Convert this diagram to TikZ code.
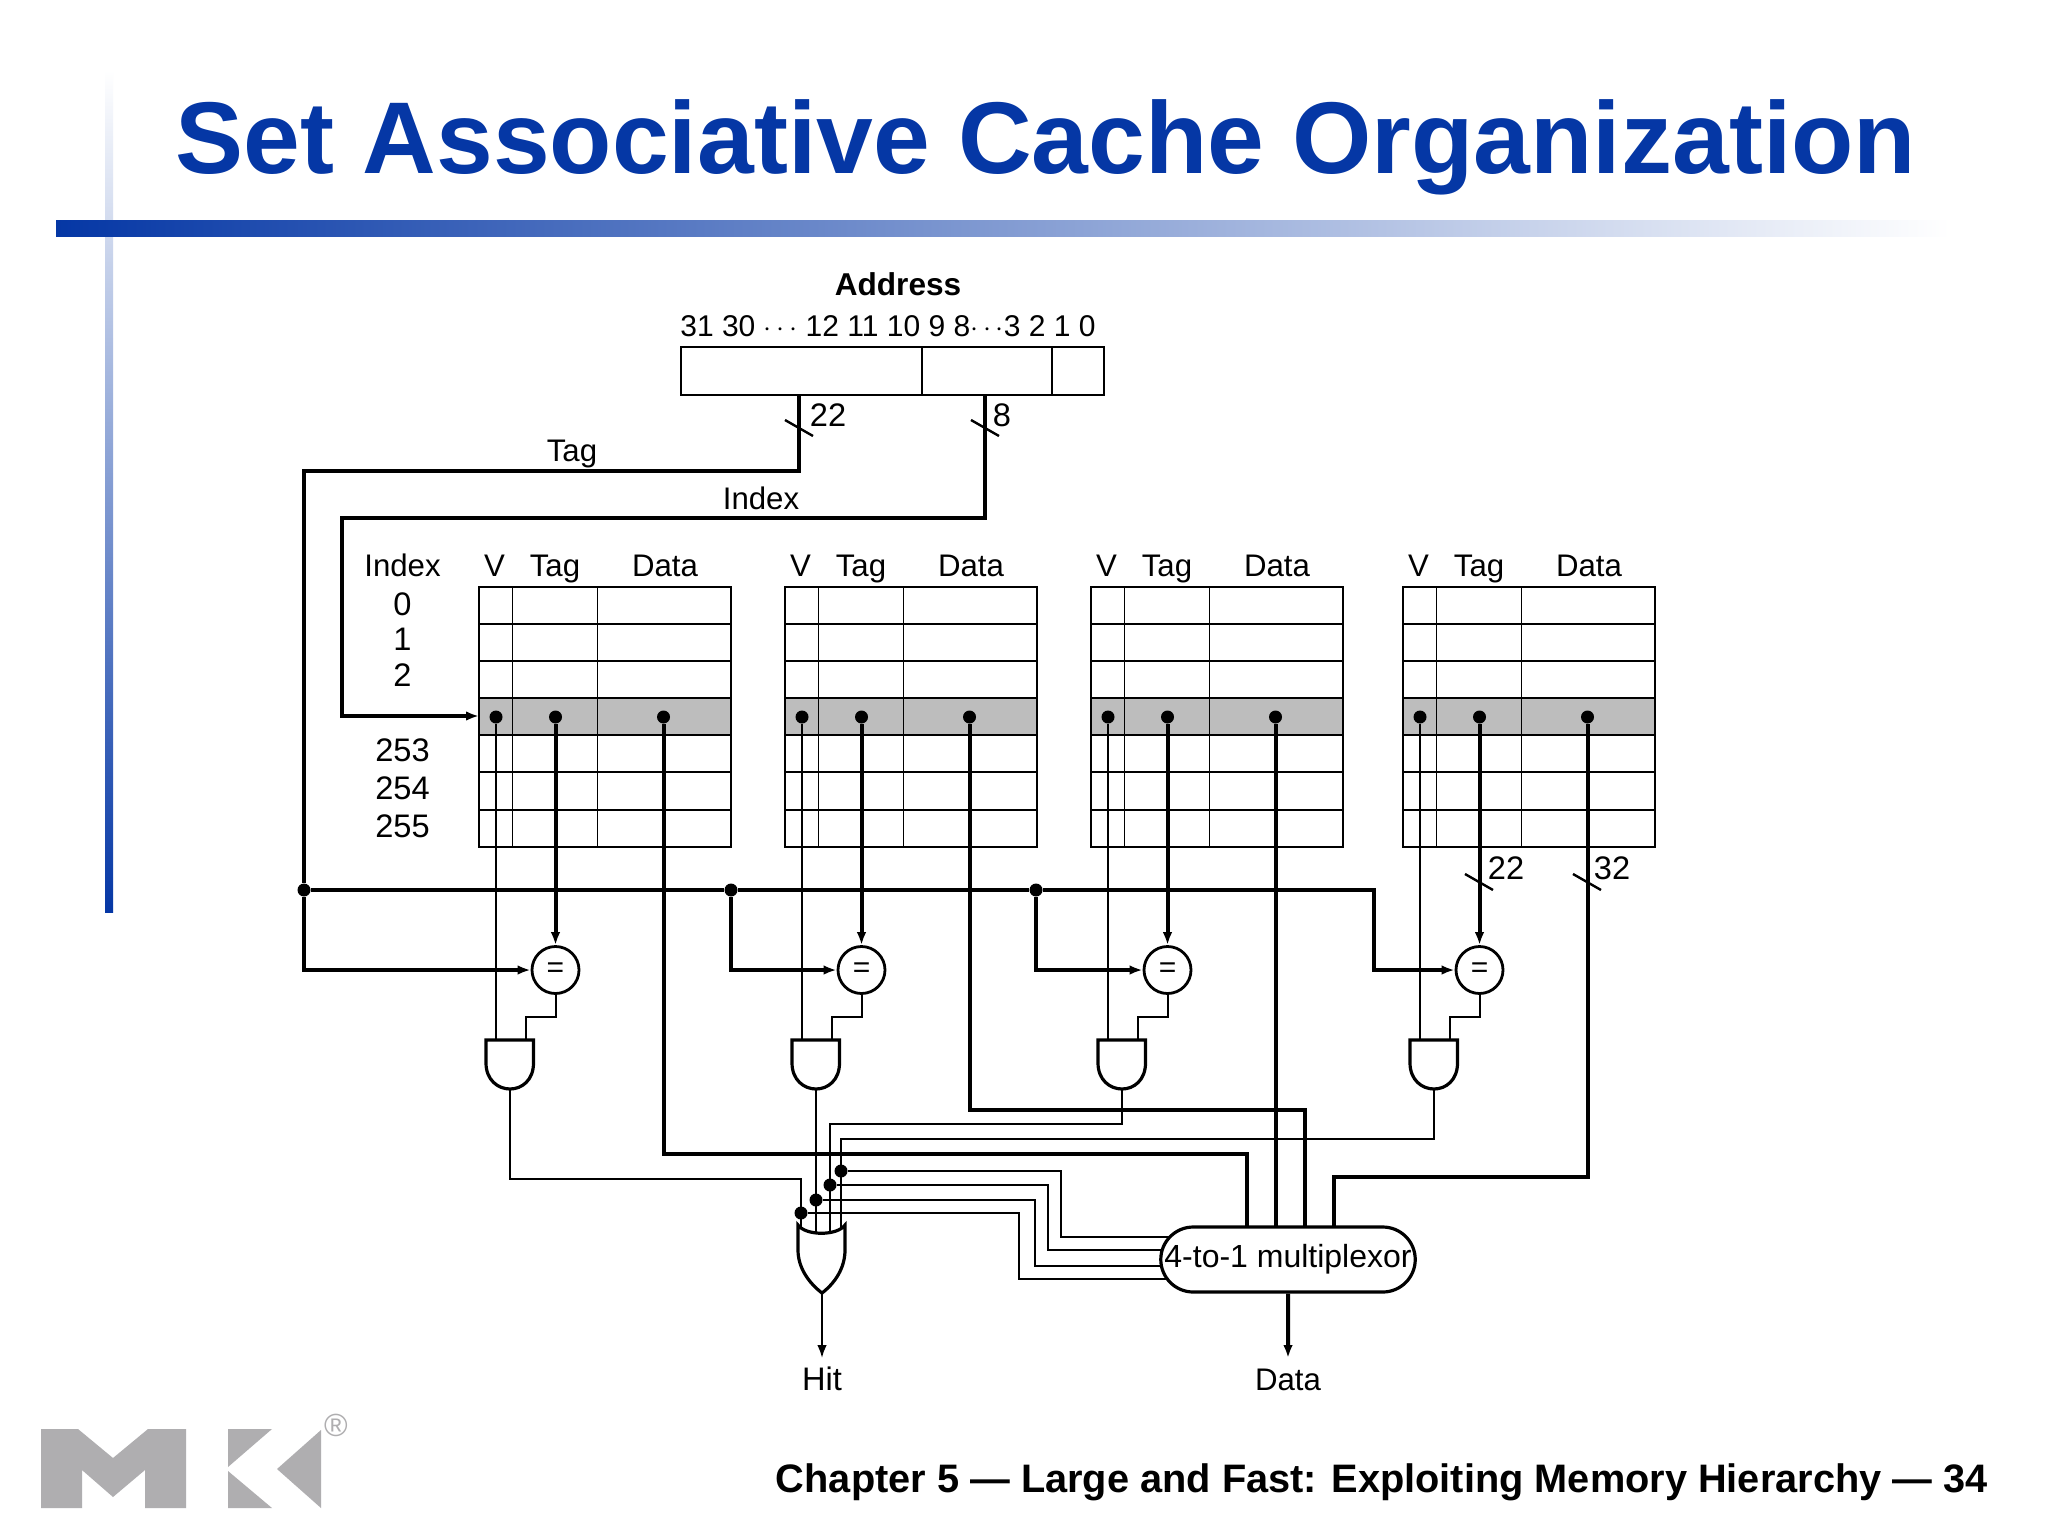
\documentclass[tikz,border=0pt]{standalone}
\usepackage{fontspec}
\setmainfont{Liberation Sans}
\usepackage{tikz}
\usetikzlibrary{arrows.meta,shapes.misc}
\definecolor{slideblue}{RGB}{5,55,165}
\definecolor{rowgray}{RGB}{189,189,189}
\definecolor{logogray}{RGB}{175,174,176}

\begin{document}
\begin{tikzpicture}[x=0.5pt,y=-0.5pt,
  bus/.style={line width=2pt},
  wire/.style={line width=1pt},
  cell/.style={line width=0.9pt},
  gate/.style={line width=1.6pt},
  slash/.style={line width=1.2pt},
  arrowed/.style={-{Latex[length=6.5pt,width=4.8pt]}},
  dot/.style={circle, fill=black, inner sep=0pt, minimum size=6.5pt},
  txt/.style={font=\fontsize{15.6}{18}\selectfont, anchor=base, inner sep=0pt},
  num/.style={font=\fontsize{16.3}{18}\selectfont, anchor=base, inner sep=0pt},
  cmp/.style={circle, draw, line width=1.4pt, fill=white, inner sep=0pt, minimum size=23.5pt, font=\fontsize{15}{17}\selectfont},
  field/.style={draw, line width=0.8pt, minimum height=24pt, inner sep=0pt, anchor=north west},
  muxbox/.style={rounded rectangle, draw, line width=1.6pt, fill=white, minimum width=127pt, minimum height=32.5pt, inner sep=0pt, font=\fontsize{16}{18}\selectfont}
]
  \useasboundingbox (0,0) rectangle (2048,1536);
  \fill[white] (0,0) rectangle (2048,1536);
  \shade[top color=white, bottom color=slideblue] (105,70) rectangle (113,912);
  \shade[left color=slideblue, right color=white] (56,220) rectangle (1950,236);
  \node[anchor=base west, inner sep=0pt, text=slideblue, font=\fontsize{51}{60}\selectfont\bfseries] (title) at (175.5,173) {Set Associative Cache Organization};

  \node[txt, font=\fontsize{15.8}{18}\selectfont\bfseries] (addr) at (898,295) {Address};
  \node[txt, font=\fontsize{15}{18}\selectfont] (bits) at (888,336) {31 30 $\cdots$ 12 11 10 9 8$\cdots$3 2 1 0};
  \node[field, minimum width=120.5pt] (tagfield) at (680,346) {};
  \node[field, minimum width=65pt] (indexfield) at (921,346) {};
  \node[field, minimum width=26pt] (offsetfield) at (1051,346) {};

  \foreach \i/\x in {1/479,2/785,3/1091,4/1403} {
    \fill[rowgray] (\x,698) rectangle ++(252,37);
    \draw[cell] (\x,587) rectangle ++(252,260);
    \foreach \y in {624,661,698,735,772,810}
      \draw[cell] (\x,\y) -- ++(252,0);
    \draw[cell] (\x+33.5,587) -- ++(0,260);
    \draw[cell] (\x+118.5,587) -- ++(0,260);
    \node[txt] (hv\i) at (\x+15.5,576) {V};
    \node[txt] (ht\i) at (\x+76,576) {Tag};
    \node[txt] (hd\i) at (\x+186,576) {Data};
    \node[dot] (v\i) at (\x+17,717) {};
    \node[dot] (t\i) at (\x+76.5,717) {};
    \node[dot] (d\i) at (\x+184.5,717) {};
    \node[cmp] (eq\i) at (\x+76.5,970) {=};
    \coordinate (vin\i) at (\x+17,1040);
    \coordinate (ain\i) at (\x+46.5,1040);
    \coordinate (aout\i) at (\x+31,1089);
    \draw[wire] (v\i) -- (vin\i);
    \draw[wire] (eq\i.south) -- ++(0,22.5) -| (ain\i);
    \draw[bus,arrowed] (t\i) -- (eq\i);
    \draw[gate] (\x+7,1040) -- (\x+54.5,1040) -- (\x+54.5,1063) .. controls (\x+54.5,1080) and (\x+43,1089) .. (\x+31,1089) .. controls (\x+19,1089) and (\x+7,1080) .. (\x+7,1063) -- cycle;
  }

  \node[txt] (hidx) at (402.5,576) {Index};
  \foreach \lab/\y in {0/615,1/650,2/686,253/761,254/799,255/837}
    \node[num] (row\lab) at (402.5,\y) {\lab};

  \coordinate (tagout) at (799,394);
  \coordinate (tagbend) at (304,471);
  \coordinate (idxout) at (985,394);
  \coordinate (idxbend) at (342,518);
  \coordinate (rowin) at (479,716);
  \node[dot] (j1) at (304,890) {};
  \node[dot] (j2) at (731,890) {};
  \node[dot] (j3) at (1036,890) {};
  \coordinate (busend) at (1374,890);
  \draw[bus] (tagout) |- (tagbend) -- (j1);
  \draw[bus,arrowed] (idxout) |- (idxbend) |- (rowin);
  \draw[bus] (j1) -- (j2);
  \draw[bus] (j2) -- (j3);
  \draw[bus,arrowed] (j3) -- (busend) |- (eq4);
  \draw[bus,arrowed] (j1) |- (eq1);
  \draw[bus,arrowed] (j2) |- (eq2);
  \draw[bus,arrowed] (j3) |- (eq3);

  \node[txt] (taglab) at (572,461) {Tag};
  \node[txt] (idxlab) at (761,509) {Index};
  \node[num] (w22) at (828,426) {22};
  \node[num] (w8) at (1002,426) {8};
  \node[num] (w22b) at (1506,879) {22};
  \node[num] (w32) at (1612,879) {32};
  \foreach \x/\y in {799/428,985/428,1479/882,1587/882}
    \draw[slash] (\x-14,\y-8) -- (\x+14,\y+8);

  \node[muxbox] (mux) at (1288,1259.5) {4-to-1 multiplexor};
  \coordinate (m1) at (1247,1227);
  \coordinate (m2) at (1275,1227);
  \coordinate (m3) at (1305,1227);
  \coordinate (m4) at (1334,1227);
  \coordinate (b1) at (663.5,1154);
  \coordinate (b2) at (969.5,1110);
  \coordinate (b4) at (1587.5,1177);
  \draw[bus] (d1) -- (b1) -| (m1);
  \draw[bus] (d2) -- (b2) -| (m3);
  \draw[bus] (d3) -- (m2 -| d3);
  \draw[bus] (d4) -- (b4) -| (m4);

  \draw[gate] (798,1225) .. controls (806,1236) and (837,1236) .. (845,1225) -- (845,1250) .. controls (845,1268) and (835,1283) .. (822,1293) .. controls (809,1283) and (798,1268) .. (798,1250) -- cycle;
  \node[dot] (or1) at (801,1213) {};
  \node[dot] (or2) at (816,1200) {};
  \node[dot] (or3) at (830,1185) {};
  \node[dot] (or4) at (841,1171) {};
  \coordinate (bend1) at (801,1179);
  \coordinate (bend3) at (830,1124);
  \coordinate (bend4) at (841,1139);
  \coordinate (in1) at (801,1229);
  \coordinate (in2) at (816,1232);
  \coordinate (in3) at (830,1232);
  \coordinate (in4) at (841,1229);
  \draw[wire] (aout1) |- (bend1) -- (in1);
  \draw[wire] (aout2) -- (in2);
  \draw[wire] (aout3) |- (bend3) -- (in3);
  \draw[wire] (aout4) |- (bend4) -- (in4);

  \coordinate (p1) at (1019,1279);
  \coordinate (p2) at (1035,1266);
  \coordinate (p3) at (1048,1250);
  \coordinate (p4) at (1061,1237);
  \coordinate (q1) at (1168,1279);
  \coordinate (q2) at (1162,1266);
  \coordinate (q3) at (1162,1250);
  \coordinate (q4) at (1170,1237);
  \foreach \i in {1,2,3,4}
    \draw[wire] (or\i) -| (p\i) -- (q\i);

  \coordinate (orout) at (822,1293);
  \coordinate (hitend) at (822,1358);
  \coordinate (dataend) at (1288,1358);
  \draw[wire,arrowed] (orout) -- (hitend);
  \draw[bus,arrowed] (mux) -- (dataend);
  \node[num] (hit) at (822,1390) {Hit};
  \node[txt] (data) at (1288,1390) {Data};

  \node[anchor=base east, inner sep=0pt, font=\fontsize{19.87}{24}\selectfont\bfseries] (foot) at (1988,1492) {Chapter 5 — Large and Fast: Exploiting Memory Hierarchy — 34};

  \fill[logogray] (41,1429) -- (78,1429) -- (113,1458) -- (148,1429) -- (186,1429) -- (186,1508) -- (145,1508) -- (145,1470) -- (113,1497) -- (82,1470) -- (82,1508) -- (41,1508) -- cycle;
  \fill[logogray] (228,1429) -- (272,1429) -- (228,1467) -- cycle;
  \fill[logogray] (228,1471) -- (272,1508) -- (228,1508) -- cycle;
  \fill[logogray] (321,1430) -- (321,1508) -- (277,1469) -- cycle;
  \node[inner sep=0pt, text=logogray, font=\fontsize{16}{18}\selectfont] (reg) at (336,1425) {®};
\end{tikzpicture}
\end{document}
